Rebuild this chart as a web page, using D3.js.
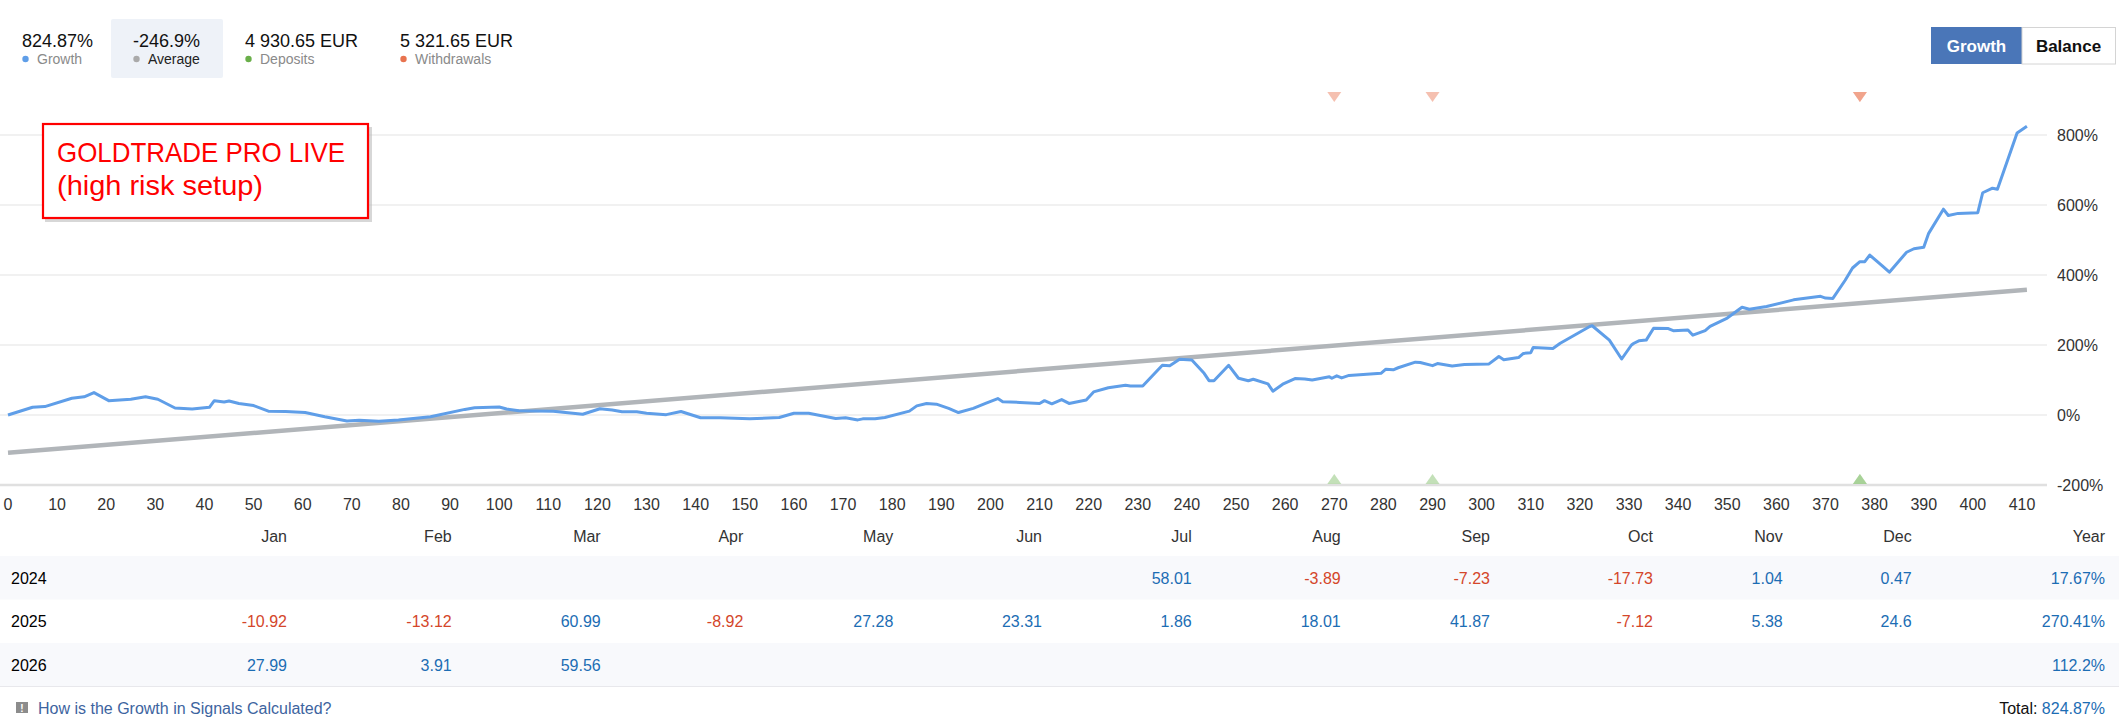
<!DOCTYPE html>
<html>
<head>
<meta charset="utf-8">
<script src="https://cdn.jsdelivr.net/npm/d3@7"></script>
<style>
  body { margin: 0; background: #fff; }
  svg text { font-family: "Liberation Sans", Arial, sans-serif; }
</style>
</head>
<body>
<div id="chart"></div>
<script>
// growth curve (trade number / growth %)
var tradeIdx = [0,5,7.5,13,15.5,17.5,20.5,25,28,30.5,34,37.5,41,42,44,45,47,50,53,56.5,60.5,64.5,69,71.5,75.5,79.5,86,93,95,100,101.5,
  104,111,117,120.5,123,125,128,130,134,137,141,145,151,157,160,163,168.5,170.5,173,174,176.5,178.5,183.5,185,187,189,191.5,193.5,196.5,199,201.5,202.5,206,
  210,211,212.5,214.5,216,219.5,221,224,227.5,228.5,231,235,236.5,238.5,241,243.5,244.5,245.5,248.5,250.5,252.5,253.5,256.5,257.5,259.5,262,264,265.5,269,269.5,270.5,271.5,273,
  279.5,280.5,282,283,286.5,287.5,290,291,294,296.5,301.5,303.5,304.5,307.5,308.5,310,310.5,314.5,
  316,322,322.5,326,328.5,330.5,331,332,333.5,335,338,339,342,343,345.5,346.5,350,353,354.5,358,363.5,369,370,371.5,374,375.5,377,378,379,381.5,383,386.5,388,390,391,394,395,397,401,402,404,405,409,411];
var growthPct = [0,22,24,48,52,64,41,45,52,45,20,17,22,41,37,40,33,27,11,10,7,-5,-17,-15,-18,-14,-5,16,21,23,17,
  12,11,2,18,14,9,9,5,1,10,-8,-8,-11,-7,5,5,-10,-8,-14,-11,-11,-7,11,26,33,31,19,7,19,33,47,38,36,
  33,41,32,44,33,43,66,78,85,83,83,142,141,159,157,119,98,98,142,105,98,102,89,68,88,104,103,100,109,105,112,106,113,
  119,131,129,135,151,150,141,147,140,144,146,167,158,164,176,178,193,190,
  205,253,255,214,160,200,205,212,214,248,247,241,243,228,241,253,277,308,302,310,329,339,334,333,385,420,438,438,457,427,408,465,475,479,519,588,570,576,578,635,648,645,806,824.87];

var averageIdx = [0, 411];
var averagePct = [-108, 358];

// one entry per operation, same trade can appear twice
var depositTrades = [270, 290, 377, 377];
var withdrawalTrades = [270, 290, 377, 377];

var xTicks = d3.range(0, 411, 10);
var yTicks = [-200, 0, 200, 400, 600, 800];

var stats = ["824.87%", "-246.9%", "4 930.65 EUR", "5 321.65 EUR"];
var statNames = ["Growth", "Average", "Deposits", "Withdrawals"];

var months = ["Jan","Feb","Mar","Apr","May","Jun","Jul","Aug","Sep","Oct","Nov","Dec","Year"];
var years = ["2024", "2025", "2026"];
var monthly2024 = [null,null,null,null,null,null,58.01,-3.89,-7.23,-17.73,1.04,0.47];
var monthly2025 = [-10.92,-13.12,60.99,-8.92,27.28,23.31,1.86,18.01,41.87,-7.12,5.38,24.6];
var monthly2026 = [27.99,3.91,59.56,null,null,null,null,null,null,null,null,null];
var yearTotals = ["17.67%", "270.41%", "112.2%"];
var totalGrowth = "824.87%";

// layout
var W = 2119, H = 724;
var colRight = [287, 451.7, 600.7, 743.3, 893.3, 1042, 1191.7, 1340.7, 1490, 1653, 1782.7, 1911.7, 2105];
var blue = "#1c6db4", red = "#d4462a";

var svg = d3.select("#chart").append("svg").attr("width", W).attr("height", H);

var x = d3.scaleLinear().domain([0, 410]).range([8, 2022]);
var y = d3.scaleLinear().domain([-200, 800]).range([485, 135]);

// header stats
var statX = [22, 133, 245, 400];
var dotColors = ["#5f9ee8", "#aaaaaa", "#6aaf4a", "#e8734f"];
svg.append("rect").attr("x", 111).attr("y", 19).attr("width", 112).attr("height", 59)
  .attr("rx", 2).attr("fill", "#eef2f8");
stats.forEach(function(s, i) {
  svg.append("text").attr("x", statX[i]).attr("y", 47).attr("font-size", 18).attr("fill", "#111").text(s);
  svg.append("circle").attr("cx", statX[i] + 3.5).attr("cy", 59).attr("r", 3.2).attr("fill", dotColors[i]);
  svg.append("text").attr("x", statX[i] + 15).attr("y", 64).attr("font-size", 14)
    .attr("fill", i == 1 ? "#222" : "#8a8a8a").text(statNames[i]);
});

// Growth / Balance buttons
svg.append("rect").attr("x", 1931).attr("y", 27).attr("width", 91).attr("height", 37).attr("fill", "#4a76b8");
svg.append("rect").attr("x", 2022).attr("y", 27.5).attr("width", 93.5).attr("height", 36.5)
  .attr("fill", "#fff").attr("stroke", "#d4d4d4");
svg.append("text").attr("x", 1976.5).attr("y", 52).attr("text-anchor", "middle").attr("font-size", 17)
  .attr("font-weight", "bold").attr("fill", "#fff").text("Growth");
svg.append("text").attr("x", 2068.5).attr("y", 52).attr("text-anchor", "middle").attr("font-size", 17)
  .attr("font-weight", "bold").attr("fill", "#111").text("Balance");

// grid + right axis
yTicks.forEach(function(v) {
  svg.append("line").attr("x1", 0).attr("x2", 2047).attr("y1", y(v)).attr("y2", y(v))
    .attr("stroke", v == -200 ? "#e0e0e0" : "#ececec").attr("stroke-width", v == -200 ? 2.5 : 1.5);
  svg.append("text").attr("x", 2057).attr("y", y(v)).attr("dy", "0.36em").attr("font-size", 16)
    .attr("fill", "#333").text(v + "%");
});

// bottom axis labels
svg.selectAll(".xt").data(xTicks).enter().append("text")
  .attr("x", function(d) { return Math.max(x(d), 6); })
  .attr("y", 510).attr("text-anchor", "middle").attr("font-size", 16).attr("fill", "#333")
  .text(function(d) { return d; });

// average line
var pts = averageIdx.map(function(t, i) { return [t, averagePct[i]]; });
svg.append("path").datum(pts)
  .attr("d", d3.line().x(function(d) { return x(d[0]); }).y(function(d) { return y(d[1]); }))
  .attr("fill", "none").attr("stroke", "#b1b5b9").attr("stroke-width", 4.5);

// growth line
var gpts = tradeIdx.map(function(t, i) { return [t, growthPct[i]]; });
svg.append("path").datum(gpts)
  .attr("d", d3.line().x(function(d) { return x(d[0]); }).y(function(d) { return y(d[1]); }))
  .attr("fill", "none").attr("stroke", "#5f9ee8").attr("stroke-width", 3)
  .attr("stroke-linejoin", "round");

// deposit / withdrawal markers
svg.selectAll(".wd").data(withdrawalTrades).enter().append("path")
  .attr("d", function(d) { var cx = x(d); return "M" + (cx - 7) + ",92 L" + (cx + 7) + ",92 L" + cx + ",102 Z"; })
  .attr("fill", "#ec8d70").attr("opacity", 0.55);
svg.selectAll(".dp").data(depositTrades).enter().append("path")
  .attr("d", function(d) { var cx = x(d); return "M" + (cx - 7) + ",484 L" + (cx + 7) + ",484 L" + cx + ",474 Z"; })
  .attr("fill", "#92c77e").attr("opacity", 0.55);

// annotation box
svg.append("rect").attr("x", 45).attr("y", 127).attr("width", 327).attr("height", 95).attr("fill", "#bdbdbd").attr("opacity", 0.6);
svg.append("rect").attr("x", 43).attr("y", 124).attr("width", 325).attr("height", 94)
  .attr("fill", "#fff").attr("stroke", "#f00").attr("stroke-width", 2.2);
svg.append("text").attr("x", 57).attr("y", 162).attr("font-size", 28).attr("fill", "#f00")
  .attr("textLength", 288).attr("lengthAdjust", "spacingAndGlyphs").text("GOLDTRADE PRO LIVE");
svg.append("text").attr("x", 57).attr("y", 195).attr("font-size", 28).attr("fill", "#f00")
  .attr("textLength", 206).attr("lengthAdjust", "spacingAndGlyphs").text("(high risk setup)");

// monthly table
var rowsTop = 556, rowH = 43.5;
months.forEach(function(m, i) {
  svg.append("text").attr("x", colRight[i]).attr("y", 542).attr("text-anchor", "end")
    .attr("font-size", 16).attr("fill", "#333").text(m);
});
var monthly = [monthly2024, monthly2025, monthly2026];
years.forEach(function(yr, r) {
  var top = rowsTop + r * rowH;
  if (r != 1) svg.append("rect").attr("x", 0).attr("y", top).attr("width", W).attr("height", rowH).attr("fill", "#f8f9fc");
  var base = top + rowH / 2 + 6;
  svg.append("text").attr("x", 11).attr("y", base).attr("font-size", 16).attr("fill", "#000").text(yr);
  monthly[r].forEach(function(v, i) {
    if (v === null) return;
    svg.append("text").attr("x", colRight[i]).attr("y", base).attr("text-anchor", "end")
      .attr("font-size", 16).attr("fill", v < 0 ? red : blue).text(v);
  });
  svg.append("text").attr("x", colRight[12]).attr("y", base).attr("text-anchor", "end")
    .attr("font-size", 16).attr("fill", blue).text(yearTotals[r]);
});
svg.append("line").attr("x1", 0).attr("x2", W).attr("y1", rowsTop + 3 * rowH).attr("y2", rowsTop + 3 * rowH)
  .attr("stroke", "#e8e8ec");

// footer
svg.append("rect").attr("x", 16).attr("y", 702).attr("width", 12).attr("height", 11).attr("fill", "#8c8c8c");
svg.append("text").attr("x", 22).attr("y", 712).attr("text-anchor", "middle").attr("font-size", 10)
  .attr("font-weight", "bold").attr("fill", "#fff").text("!");
svg.append("text").attr("x", 38).attr("y", 714).attr("font-size", 16).attr("fill", "#3d64a0")
  .text("How is the Growth in Signals Calculated?");
var tot = svg.append("text").attr("x", 2105).attr("y", 714).attr("text-anchor", "end").attr("font-size", 16);
tot.append("tspan").attr("fill", "#111").text("Total: ");
tot.append("tspan").attr("fill", blue).text(totalGrowth);
</script>
</body>
</html>
